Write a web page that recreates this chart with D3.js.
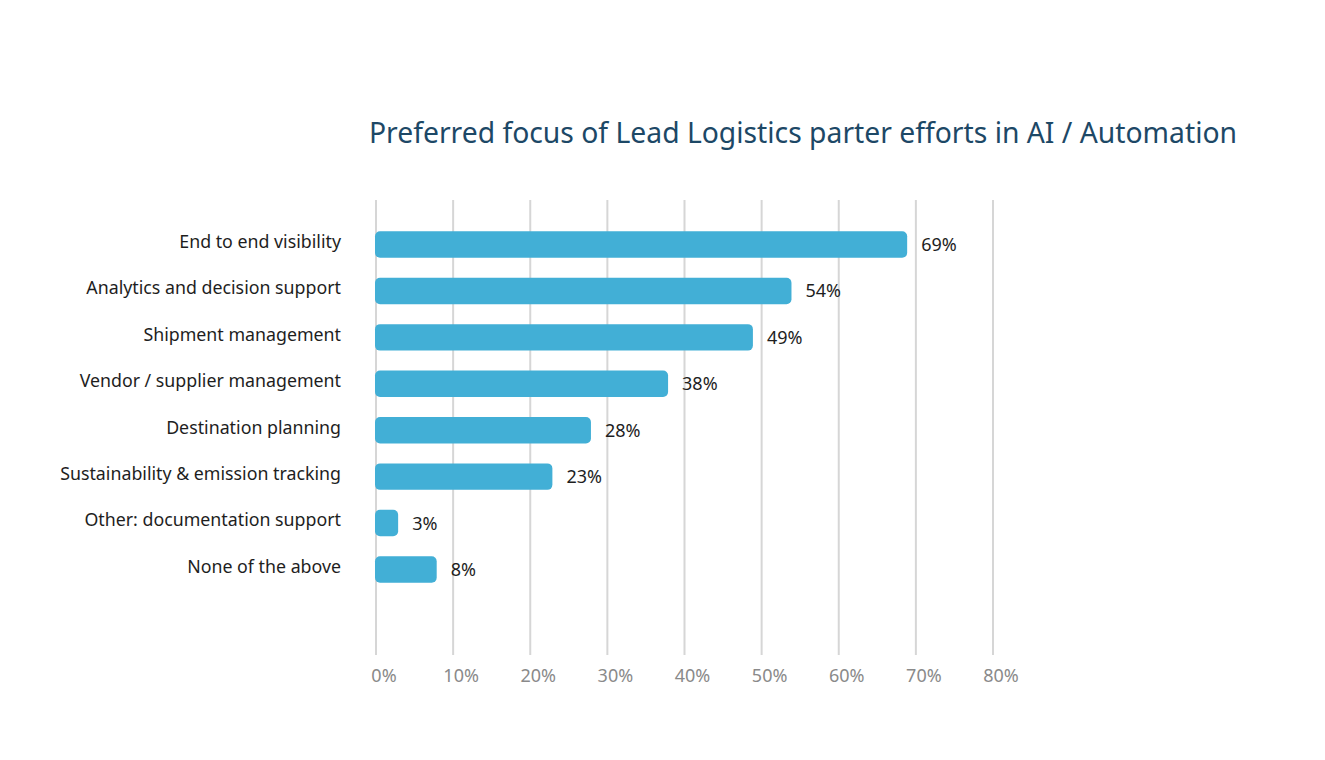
<!DOCTYPE html>
<html>
<head>
<meta charset="utf-8">
<script src="https://cdn.jsdelivr.net/npm/d3@7"></script>
<style>
  body { margin: 0; background: #fff; }
  svg { font-family: "Noto Sans", sans-serif; }
</style>
</head>
<body>
<svg width="1325" height="760"></svg>
<script>
      // chart data
      const categories = [
        "End to end visibility",
        "Analytics and decision support",
        "Shipment management",
        "Vendor / supplier management",
        "Destination planning",
        "Sustainability & emission tracking",
        "Other: documentation support",
        "None of the above"
      ];
      const values = [69, 54, 49, 38, 28, 23, 3, 8];
      const ticks = [0, 10, 20, 30, 40, 50, 60, 70, 80];

      const svg = d3.select("svg"),
          margin = {top: 200, left: 376, right: 332, bottom: 105},
          width = 1325 - margin.left - margin.right,
          gridBottom = 655;

      // x across percentages
      let x = d3.scaleLinear()
          .domain([0, 80])
          .range([margin.left, margin.left + width]);

      // one band per category
      let y = d3.scaleBand()
          .domain(categories)
          .range([222, 592])
          .paddingInner(0.43)
          .paddingOuter(0.2);

      // title
      svg.append("text")
          .attr("x", 369)
          .attr("y", 143)
          .text("Preferred focus of Lead Logistics parter efforts in AI / Automation")
          .style("font-size", "28.3px")
          .style("fill", "#1d4866");

      // gridlines
      svg.append("g")
          .attr("class", "gridlines")
          .selectAll("line")
          .data(ticks)
          .enter()
          .append("line")
          .attr("x1", d => x(d))
          .attr("x2", d => x(d))
          .attr("y1", margin.top)
          .attr("y2", gridBottom)
          .style("stroke", "#d6d6d6")
          .style("stroke-width", 2);

      // tick labels
      svg.append("g")
          .selectAll("text")
          .data(ticks)
          .enter()
          .append("text")
          .attr("x", d => x(d) + 8)
          .attr("y", 682)
          .attr("text-anchor", "middle")
          .text(d => d + "%")
          .style("font-size", "18px")
          .style("fill", "#8a8a8a");

      // bars
      svg.append("g")
          .selectAll("rect")
          .data(values)
          .enter()
          .append("rect")
          .attr("x", x(0) - 1)
          .attr("y", (d, i) => y(categories[i]))
          .attr("width", d => x(d) - x(0))
          .attr("height", y.bandwidth())
          .attr("rx", 5)
          .style("fill", "#42afd6");

      // value labels
      svg.append("g")
          .selectAll("text")
          .data(values)
          .enter()
          .append("text")
          .attr("x", d => x(d) + 13)
          .attr("y", (d, i) => y(categories[i]) + y.bandwidth() / 2)
          .attr("dy", "0.36em")
          .text(d => d + "%")
          .style("font-size", "18px")
          .style("fill", "#1e1e1e");

      // category labels
      svg.append("g")
          .selectAll("text")
          .data(categories)
          .enter()
          .append("text")
          .attr("x", 341)
          .attr("y", d => y(d) + y.bandwidth() / 2 - 3)
          .attr("dy", "0.36em")
          .attr("text-anchor", "end")
          .text(d => d)
          .style("font-size", "17.8px")
          .style("fill", "#1e1e1e");
</script>
</body>
</html>
